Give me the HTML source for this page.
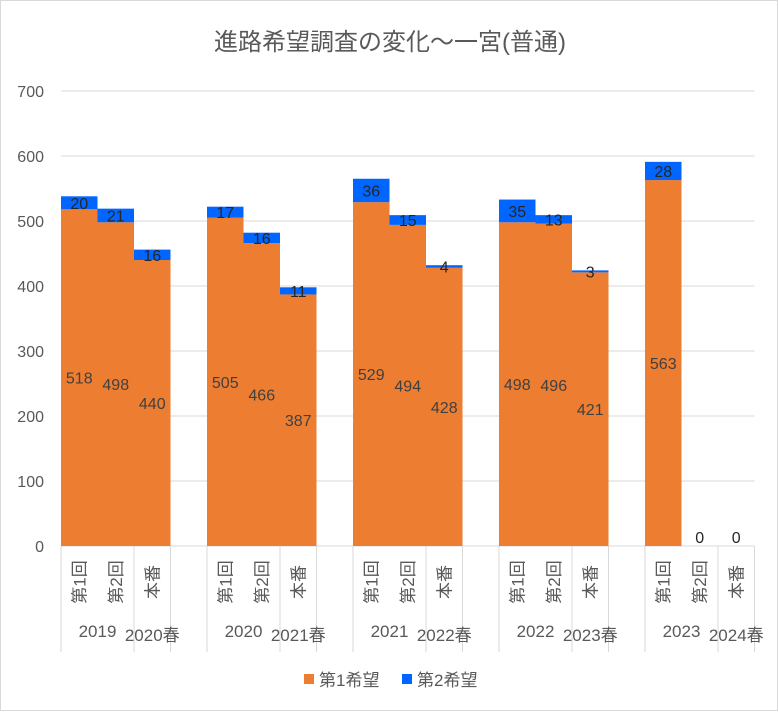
<!DOCTYPE html>
<html><head><meta charset="utf-8"><style>
body{margin:0;background:#fff}
svg text{font-family:"Liberation Sans","Noto Sans CJK JP",sans-serif}
</style></head><body>
<svg id="c" width="778" height="711" xmlns="http://www.w3.org/2000/svg">
<rect x="0.5" y="0.5" width="777" height="710" fill="#fff" stroke="#d9d9d9"/>
<text x="390" y="50" font-size="24" fill="#595959" text-anchor="middle">進路希望調査の変化～一宮(普通)</text>
<g id="grid"></g><g id="bars"></g><g id="axis"></g>
<g>
<rect x="304" y="674" width="10" height="10" fill="#ed7d31"/>
<text x="319" y="686" font-size="17" fill="#595959">第1希望</text>
<rect x="402" y="674" width="10" height="10" fill="#0066ff"/>
<text x="417" y="686" font-size="17" fill="#595959">第2希望</text>
</g>
</svg>
<script>
const categories=["第1回","第2回","本番","","第1回","第2回","本番","","第1回","第2回","本番","","第1回","第2回","本番","","第1回","第2回","本番"];
const first=[518,498,440,null,505,466,387,null,529,494,428,null,498,496,421,null,563,0,0];
const second=[20,21,16,null,17,16,11,null,36,15,4,null,35,13,3,null,28,0,0];
const groupA=["2019","2020","2021","2022","2023"];
const groupB=["2020春","2021春","2022春","2023春","2024春"];
const yTicks=[0,100,200,300,400,500,600,700];
const NS="http://www.w3.org/2000/svg";
const x0=61,slot=36.5,yBase=546,pxPer=455/700;
const y=v=>yBase-v*pxPer, xs=i=>x0+i*slot;
function mk(t,a,p,txt){const e=document.createElementNS(NS,t);for(const k in a)e.setAttribute(k,a[k]);if(txt!=null)e.textContent=txt;p.appendChild(e);return e;}
const G=document.getElementById('grid'),B=document.getElementById('bars'),A=document.getElementById('axis');
yTicks.forEach(t=>{
 const l=mk('line',{x1:x0,x2:x0+categories.length*slot,y1:y(t),y2:y(t),stroke:'#d9d9d9','stroke-width':1},G);
 
 
 const tx=mk('text',{x:44,y:y(t)+6,'font-size':16,fill:'#595959','text-anchor':'end'},G,String(t));
 
 
});
categories.forEach((c,i)=>{
 if(first[i]==null)return;
 const bx=xs(i);
 const r1=mk('rect',{x:bx,y:y(first[i]),width:slot,height:first[i]*pxPer,fill:'#ed7d31'},B);
 
 
 const r2=mk('rect',{x:bx,y:y(first[i]+second[i]),width:slot,height:second[i]*pxPer,fill:'#0066ff'},B);
 
 
 if(first[i]>0){
  const t1=mk('text',{x:bx+slot/2,y:y(first[i]/2)+6,'font-size':16,fill:'#404040','text-anchor':'middle'},B,String(first[i]));
  
  
 }
 const top=first[i]+second[i];
 const ty=second[i]>0?y(first[i]+second[i]/2)+6:y(top)-3;
 const t2=mk('text',{x:bx+slot/2,y:ty,'font-size':16,fill:'#262626','text-anchor':'middle'},B,String(second[i]));
 
 
 const g=mk('text',{'font-size':17,fill:'#595959','text-anchor':'middle',transform:`translate(${bx+slot/2+6},582) rotate(-90)`},A,c);
 
 
});
for(let gI=0;gI<groupA.length;gI++){
 const s=gI*4;
 [s,s+2,s+3,s+4].forEach(k=>{
  if(k>categories.length)return;
  const ln=mk('line',{x1:xs(k),x2:xs(k),y1:yBase,y2:652,stroke:'#d9d9d9','stroke-width':1},A);
  
  
 });
 const a=mk('text',{x:xs(s)+slot,y:637,'font-size':17,fill:'#595959','text-anchor':'middle'},A,groupA[gI]);
 
 
 const b=mk('text',{x:xs(s+2)+slot/2,y:641,'font-size':17,fill:'#595959','text-anchor':'middle'},A,groupB[gI]);
 
 
}
</script>
</body></html>
